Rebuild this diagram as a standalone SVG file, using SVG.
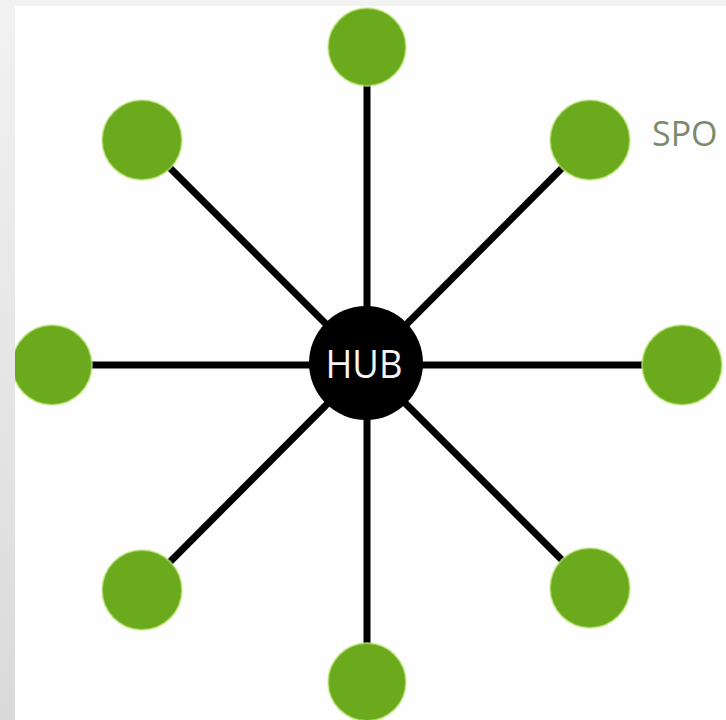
<svg xmlns="http://www.w3.org/2000/svg" width="726" height="720" viewBox="0 0 726 720">
<defs>
<linearGradient id="strip" x1="0" y1="0" x2="0" y2="1">
<stop offset="0" stop-color="#f2f2f2"/>
<stop offset="1" stop-color="#dadada"/>
</linearGradient>
<style>
.spoke{fill:#6aaa1c;stroke:#c9ec8a;stroke-width:2;stroke-opacity:0.6}
.link{stroke:#000;stroke-width:7;stroke-linecap:butt}
.lbl{font-family:"Open Sans","Noto Sans","Liberation Sans",sans-serif}
</style>
</defs>
<rect x="0" y="0" width="726" height="720" fill="#fefefe"/>
<rect x="0" y="0" width="726" height="6" fill="#f2f2f2"/>
<g id="connectors">
<line class="link" x1="367" y1="47" x2="367" y2="682"/>
<line class="link" x1="50" y1="365" x2="682" y2="365"/>
<line class="link" x1="142" y1="140" x2="590" y2="588"/>
<line class="link" x1="590" y1="140" x2="142" y2="590"/>
</g>
<g id="spoke-top"><circle class="spoke" cx="367" cy="47" r="39"/></g>
<g id="spoke-top-left"><circle class="spoke" cx="142" cy="140" r="40"/></g>
<g id="spoke-top-right"><circle class="spoke" cx="590" cy="140" r="40"/></g>
<g id="spoke-left"><circle class="spoke" cx="52" cy="365" r="40"/></g>
<g id="spoke-right"><circle class="spoke" cx="682" cy="365" r="40"/></g>
<g id="spoke-bottom-left"><circle class="spoke" cx="142" cy="590" r="40"/></g>
<g id="spoke-bottom-right"><circle class="spoke" cx="590" cy="588" r="40"/></g>
<g id="spoke-bottom"><circle class="spoke" cx="367" cy="682" r="39"/></g>
<g id="hub">
<circle cx="366" cy="363" r="57" fill="#000"/>
<text class="lbl" x="364" y="378" text-anchor="middle" font-size="38" textLength="77" lengthAdjust="spacingAndGlyphs" fill="#f4f4f4">HUB</text>
</g>
<g id="label-spoke">
<text class="lbl" x="652" y="146" font-size="34" fill="#7c8a6c">SPO</text>
</g>
<rect x="0" y="0" width="15" height="720" fill="url(#strip)"/>
</svg>
